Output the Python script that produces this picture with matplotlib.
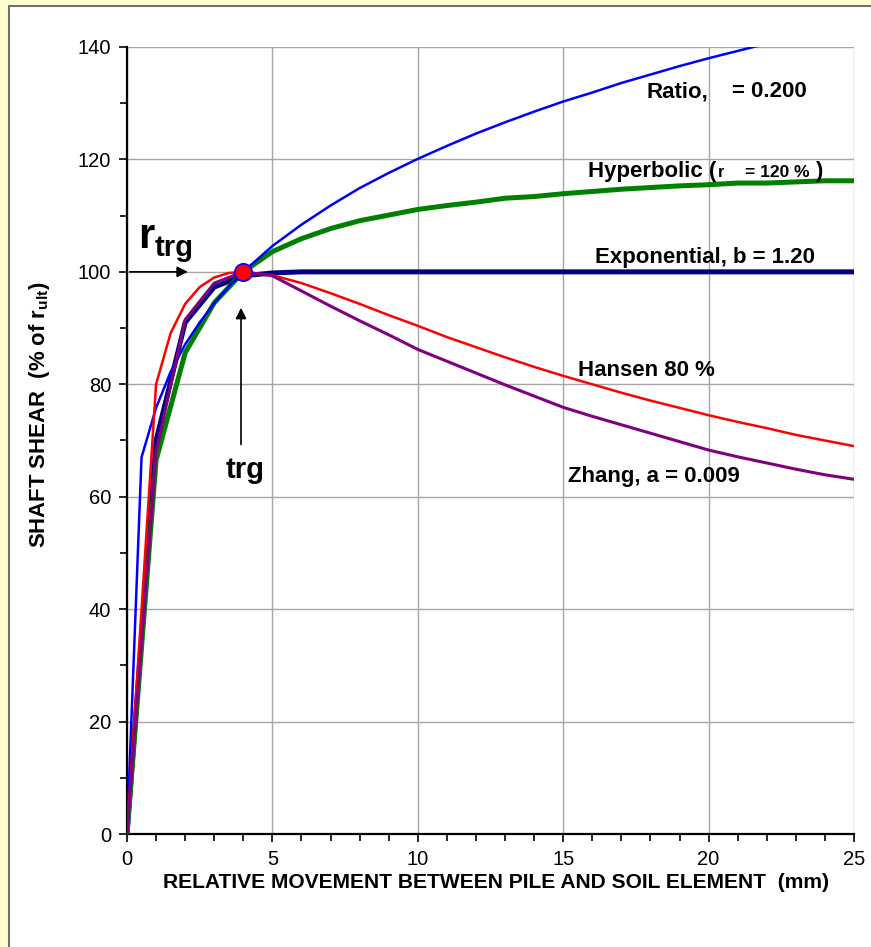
import matplotlib
matplotlib.use('Agg')
import matplotlib.pyplot as plt
from matplotlib.patches import Rectangle
from matplotlib.ticker import MultipleLocator

plt.rcParams['font.family'] = ['Liberation Sans', 'DejaVu Sans']
plt.rcParams['mathtext.fontset'] = 'custom'
plt.rcParams['mathtext.rm'] = 'Liberation Sans:bold'
plt.rcParams['mathtext.bf'] = 'Liberation Sans:bold'

# t-z curves (movement in mm, shear in % of r_ult)
ratio_x = [0, 0.5, 1, 1.5, 2, 2.5, 3, 3.5, 4, 5, 6, 7, 8, 9, 10, 11, 12, 13,
           14, 15, 16, 17, 18, 19, 20, 21, 22, 23, 24, 25]
ratio_y = [0, 67.0, 75.8, 82.2, 87.1, 91.0, 94.4, 97.4, 100, 104.6, 108.4,
           111.8, 114.9, 117.6, 120.1, 122.4, 124.6, 126.6, 128.5, 130.3,
           131.9, 133.6, 135.1, 136.6, 138.0, 139.3, 140.6, 141.9, 143.1, 144.3]

hyper_x = [0, 1, 2, 3, 4, 5, 6, 7, 8, 9, 10, 11, 12, 13, 14, 15, 16, 17, 18,
           19, 20, 21, 22, 23, 24, 25]
hyper_y = [0, 66.5, 85.6, 94.5, 100, 103.6, 105.9, 107.7, 109.1, 110.1, 111.1,
           111.8, 112.4, 113.1, 113.4, 113.9, 114.3, 114.7, 115.0, 115.3,
           115.5, 115.8, 115.8, 116.0, 116.2, 116.2]

expo_x = [0, 1, 2, 3, 4, 5, 6, 7, 8, 9, 10, 11, 12, 13, 14, 15, 16, 17, 18,
          19, 20, 21, 22, 23, 24, 25]
expo_y = [0, 70.0, 91.0, 97.3, 99.3, 99.8, 100, 100, 100, 100, 100, 100, 100,
          100, 100, 100, 100, 100, 100, 100, 100, 100, 100, 100, 100, 100]

hansen_x = [0, 1, 1.5, 2, 2.5, 3, 3.5, 4, 5, 6, 7, 8, 9, 10, 11, 12, 13, 14,
            15, 16, 17, 18, 19, 20, 21, 22, 23, 24, 25]
hansen_y = [0, 80.0, 89.1, 94.3, 97.3, 99.0, 99.8, 100, 99.4, 98.0, 96.2, 94.3,
            92.3, 90.4, 88.4, 86.6, 84.8, 83.1, 81.5, 80.0, 78.5, 77.1, 75.8,
            74.5, 73.3, 72.2, 71.0, 70.0, 69.0]

zhang_x = [0, 1, 2, 3, 4, 5, 6, 7, 8, 9, 10, 11, 12, 13, 14, 15, 16, 17, 18,
           19, 20, 21, 22, 23, 24, 25]
zhang_y = [0, 68.0, 91.5, 98.0, 100, 99.3, 96.6, 93.9, 91.3, 88.8, 86.2, 84.1,
           82.0, 79.9, 77.9, 75.9, 74.3, 72.8, 71.3, 69.8, 68.3, 67.1, 66.0,
           64.9, 63.9, 63.1]

trg_x = [4]
trg_y = [100]

fig = plt.figure(figsize=(8.71, 9.47), dpi=100, facecolor='#FFFFCC')
# white chart area with grey frame
fig.patches.append(Rectangle((9 / 871, -0.02), 1.2, 1 - 6 / 947 + 0.02,
                             transform=fig.transFigure, facecolor='white',
                             edgecolor='#707070', lw=1.5, zorder=-10))

ax = fig.add_axes([127 / 871, 1 - 834 / 947, 727 / 871, 787 / 947])
ax.set_facecolor('white')

ax.plot(expo_x, expo_y, color='#000080', lw=3.6, zorder=3)
ax.plot(hyper_x, hyper_y, color='#008000', lw=3.6, zorder=3)
ax.plot(ratio_x, ratio_y, color='#0000FF', lw=1.8, zorder=4)
ax.plot(hansen_x, hansen_y, color='#FF0000', lw=1.8, zorder=4)
ax.plot(zhang_x, zhang_y, color='#800080', lw=2.2, zorder=4)
ax.plot(trg_x, trg_y, 'o', ms=12.5, mfc='#FF0000', mec='#0000FF', mew=1.2,
        zorder=6, clip_on=False)

ax.set_xlim(0, 25)
ax.set_ylim(0, 140)
ax.xaxis.set_major_locator(MultipleLocator(5))
ax.xaxis.set_minor_locator(MultipleLocator(1))
ax.yaxis.set_major_locator(MultipleLocator(20))
ax.yaxis.set_minor_locator(MultipleLocator(10))
ax.grid(True, which='major', color='#A6A6A6', lw=1.0, zorder=1)
ax.set_axisbelow(True)

for s in ['top', 'right']:
    ax.spines[s].set_visible(False)
for s in ['left', 'bottom']:
    ax.spines[s].set_linewidth(1.6)
ax.tick_params(which='major', length=5.5, width=1.2, labelsize=14.5, pad=6)
ax.tick_params(which='minor', length=5, width=1.2)

# labels on the curves
tb = dict(fontsize=16, fontweight='bold', va='baseline')
ax.text(17.85, 131.1, 'Ratio,', **tb)
ax.text(20.80, 131.1, '= 0.200', **tb)
ax.text(15.85, 116.9, 'Hyperbolic (', **tb)
ax.text(20.32, 116.9, 'r', fontsize=11.5, fontweight='bold', va='baseline')
ax.text(21.25, 116.9, '= 120 %', fontsize=12.5, fontweight='bold',
        va='baseline')
ax.text(23.66, 116.9, ')', **tb)
ax.text(16.09, 101.6, 'Exponential, b = 1.20', **tb)
ax.text(15.5, 81.5, 'Hansen 80 %', **tb)
ax.text(15.17, 62.6, 'Zhang, a = 0.009', **tb)

ax.text(0.38, 104.25, 'r', fontsize=30, fontweight='bold', va='baseline')
ax.text(0.96, 102.8, 'trg', fontsize=21, fontweight='bold', va='baseline')
ax.text(4.06, 63.3, 'trg', fontsize=21, fontweight='bold', va='baseline',
        ha='center')

arr = dict(arrowstyle='-|>', color='black', lw=1.2, mutation_scale=16)
ax.annotate('', xy=(2.19, 100), xytext=(0, 100), arrowprops=arr, zorder=5)
ax.annotate('', xy=(3.92, 94.1), xytext=(3.92, 68.8), arrowprops=arr, zorder=5)

fig.text(496 / 871, 1 - 882 / 947,
         'RELATIVE MOVEMENT BETWEEN PILE AND SOIL ELEMENT  (mm)',
         fontsize=15.1, fontweight='bold', ha='center', va='center')
fig.text(40 / 871, 1 - 415 / 947, r'SHAFT SHEAR  (% of r$_{\mathrm{ult}}$)',
         fontsize=15.9, fontweight='bold', ha='center', va='center',
         rotation=90)

fig.savefig('out.png', dpi=100, facecolor=fig.get_facecolor())
